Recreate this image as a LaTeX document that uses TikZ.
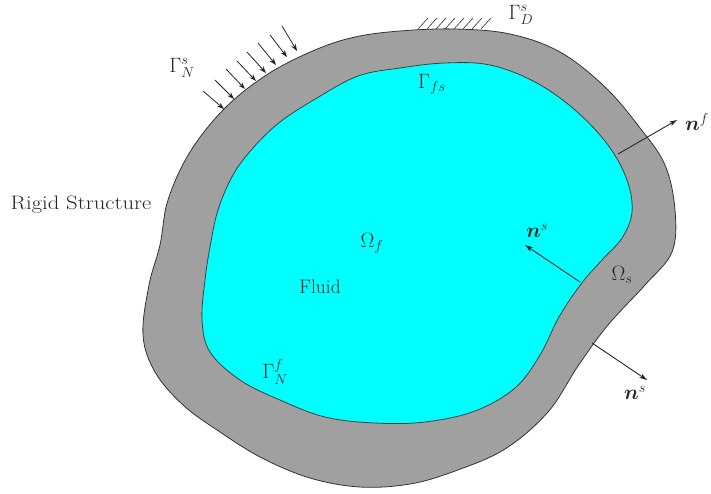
\documentclass[tikz,border=0pt]{standalone}
\usepackage{amsmath}
\usepackage{graphicx}
\usetikzlibrary{arrows.meta}
\definecolor{wallgray}{RGB}{160,160,160}
\definecolor{fluidcyan}{RGB}{0,255,255}
\tikzset{
  wall/.style={fill=wallgray,draw=black!80,line width=0.8pt},
  fluid/.style={fill=fluidcyan,draw=black!75,line width=0.8pt},
  load/.style={draw=black!85,line width=0.8pt,-{Stealth[length=7pt,width=5pt]}},
  hatch/.style={draw=black!80,line width=0.6pt},
  normalv/.style={draw=black!85,line width=0.9pt,-{Stealth[length=8pt,width=5pt]}},
  lab/.style={inner sep=0pt,text=black!85,font=\fontsize{21}{24}\selectfont},
  txt/.style={inner sep=0pt,text=black!85,font=\fontsize{19.5}{22}\selectfont},
}
\begin{document}
\begin{tikzpicture}[x=1pt,y=-1pt]
\useasboundingbox (0,0) rectangle (711,493);
\draw[wall] plot[smooth cycle,tension=0.6] coordinates {
(400,31)(455,29)(510,34)(560,52)(605,87)(640,128)(665,165)(675,210)(672,252)(645,285)(608,325)(578,366)(548,412)(505,449)(455,471)(410,484)(360,487)(310,478)(262,458)(220,432)(183,405)(155,372)(143,335)(149,285)(160,245)(168,200)(190,152)(225,108)(268,74)(315,50)(355,37)};
\draw[fluid] plot[smooth cycle,tension=0.6] coordinates {
(400,68)(445,63)(490,65)(535,82)(575,110)(608,145)(627,180)(632,212)(622,238)(602,260)(581,284)(559,317)(540,355)(515,388)(475,411)(425,422)(375,423)(325,417)(280,400)(240,380)(210,352)(202,320)(205,280)(210,247)(218,210)(233,175)(253,148)(280,122)(317,98)(358,76)};
\coordinate (a1s) at (203,91); \coordinate (a1e) at (224,109);
\coordinate (a2s) at (215,80); \coordinate (a2e) at (234,99);
\coordinate (a3s) at (226,69); \coordinate (a3e) at (245,89);
\coordinate (a4s) at (237,61); \coordinate (a4e) at (256,81);
\coordinate (a5s) at (247,52); \coordinate (a5e) at (266,73);
\coordinate (a6s) at (258,43); \coordinate (a6e) at (276,65);
\coordinate (a7s) at (270,35); \coordinate (a7e) at (287,57);
\coordinate (a8s) at (282,26); \coordinate (a8e) at (297,51);
\foreach \i in {1,...,8}{\draw[load] (a\i s) -- (a\i e);}
\foreach \i/\xa in {0/418,1/427,2/436,3/445,4/454,5/463,6/472,7/481}{
  \coordinate (hb\i) at (\xa,29);
  \coordinate (ht\i) at (\xa+10,18);
  \draw[hatch] (hb\i) -- (ht\i);}
\coordinate (nfs) at (618,154); \coordinate (nfe) at (677,120);
\coordinate (nis) at (580,282); \coordinate (nie) at (525,245);
\coordinate (nos) at (592,343); \coordinate (noe) at (647,380);
\draw[normalv] (nfs) -- (nfe);
\draw[normalv] (nis) -- (nie);
\draw[normalv] (nos) -- (noe);
\node[lab] (gns) at (182,68) {$\Gamma_N^s$};
\node[lab] (gds) at (521,15) {$\Gamma_D^s$};
\node[lab] (gfs) at (432,84) {$\Gamma_{fs}$};
\node[lab] (nf) at (697,122) {$\boldsymbol{n}^f$};
\node[lab] (ni) at (537,231) {$\boldsymbol{n}^s$};
\node[lab] (no) at (635,393) {$\boldsymbol{n}^s$};
\node[lab] (os) at (622,275) {$\Omega_s$};
\node[lab] (of) at (372,243) {$\Omega_f$};
\node[lab] (gnf) at (275,372) {$\Gamma_N^f$};
\node[txt] (fl) at (320,287) {Fluid};
\node[txt] (rs) at (81,205) {\scalebox{1.16}[1]{Rigid Structure}};
\end{tikzpicture}
\end{document}
